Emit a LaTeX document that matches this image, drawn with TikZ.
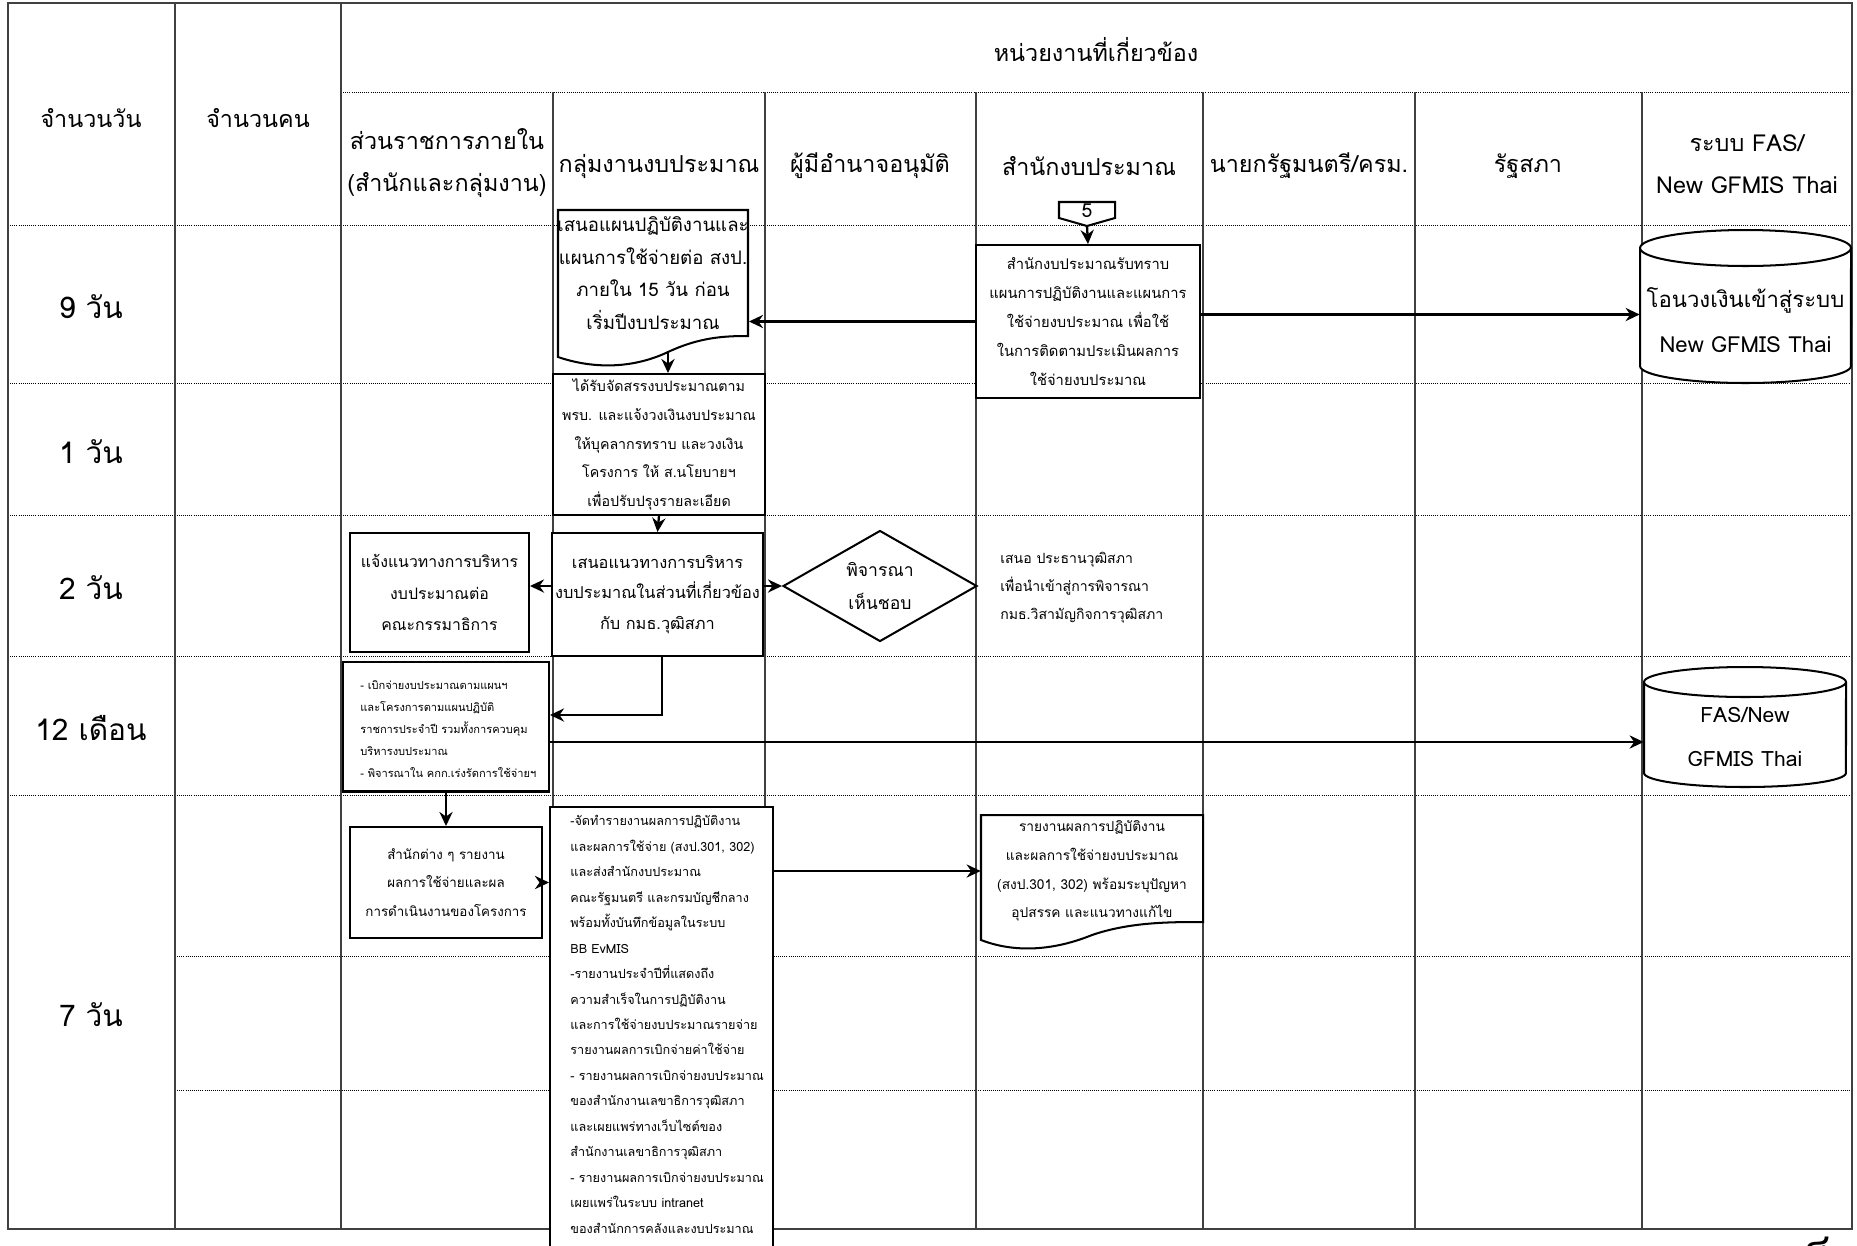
\documentclass[tikz,border=0pt]{standalone}
\usepackage{fontspec}
\setmainfont{Loma}[Script=Thai]
\usetikzlibrary{arrows.meta,shapes.geometric,calc}
\newcommand\fsz[2]{\fontsize{#1}{#2}\selectfont}
\tikzset{
  gridline/.style={line width=0.9pt, draw=black!75},
  rowline/.style={line width=0.5pt, dash pattern=on 0.5pt off 0.7pt},
  box/.style={draw, line width=1.15pt, fill=white, inner sep=0pt, align=center},
  ghost/.style={draw=none, inner sep=0pt, align=center},
  shp/.style={draw, line width=1.15pt, fill=white},
  arr/.style={line width=1.3pt, -{Stealth[length=8pt,width=7.5pt]}},
  lbl/.style={inner sep=0pt, align=center},
  hdr/.style={lbl, font=\fsz{13.3}{23.8}},
  rowlbl/.style={lbl, font=\fsz{17}{20}},
}
\begin{document}
\begin{tikzpicture}[x=0.02cm,y=-0.02cm]
\useasboundingbox (0,0) rectangle (1857,1245);
\fill[white] (0,0) rectangle (1857,1245);
% grid
\draw[rowline] (341,92) -- (1852,92);
\foreach \y in {225,383,515,656,795} \draw[rowline] (8,\y) -- (1852,\y);
\foreach \y in {956,1090} \draw[rowline] (175,\y) -- (1852,\y);
\foreach \x in {175,341} \draw[gridline] (\x,3) -- (\x,1229);
\foreach \x in {553,765,976,1203,1415,1642} \draw[gridline] (\x,92) -- (\x,1229);
\draw[gridline] (8,3) rectangle (1852,1229);
% headers
\node[hdr] (hmain) at (1096,50) {หน่วยงานที่เกี่ยวข้อง};
\node[hdr] (hdays) at (91,118) {จำนวนวัน};
\node[hdr] (hppl) at (258,118) {จำนวนคน};
\node[hdr] (hint) at (447,163) {ส่วนราชการภายใน\\(สำนักและกลุ่มงาน)};
\node[hdr] (hbud) at (659,166) {กลุ่มงานงบประมาณ};
\node[hdr] (happ) at (870,166) {ผู้มีอำนาจอนุมัติ};
\node[hdr] (hbb) at (1089,166) {สำนักงบประมาณ};
\node[hdr] (hpm) at (1309,166) {นายกรัฐมนตรี/ครม.};
\node[hdr] (hpar) at (1528,166) {รัฐสภา};
\node[hdr] (hfas) at (1747,164) {ระบบ FAS/\\New GFMIS Thai};
% row labels
\node[rowlbl] (r1) at (91,307) {9 วัน};
\node[rowlbl] (r2) at (91,452) {1 วัน};
\node[rowlbl] (r3) at (91,588) {2 วัน};
\node[rowlbl] (r4) at (91,728) {12 เดือน};
\node[rowlbl] (r5) at (91,1015) {7 วัน};
% off-page connector 5
\draw[shp] (1059,202) -- (1115,202) -- (1115,218) -- (1087,226) -- (1059,218) -- cycle;
\node[lbl, font=\fsz{11}{13}] (p5) at (1087,211) {5};
\coordinate (p5tip) at (1087,226);
% box A
\node[box, minimum width=4.48cm, minimum height=3.06cm, font=\fsz{8.4}{16.4}] (boxA) at (1088,321.5)
  {สำนักงบประมาณรับทราบ\\แผนการปฏิบัติงานและแผนการ\\ใช้จ่ายงบประมาณ เพื่อใช้\\ในการติดตามประเมินผลการ\\ใช้จ่ายงบประมาณ};
% document 1
\draw[shp] (558,210) -- (748,210) -- (748,336) .. controls (725,336) and (700,337) .. (668,352)
  .. controls (630,370) and (590,368) .. (558,357) -- cycle;
\coordinate (d1wave) at (668,352);
\node[ghost, minimum width=3.8cm, minimum height=2.52cm, font=\fsz{10.6}{18.7}] (doc1) at (653,273)
  {เสนอแผนปฏิบัติงานและ\\แผนการใช้จ่ายต่อ สงป.\\ภายใน 15 วัน ก่อน\\เริ่มปีงบประมาณ};
% box B
\node[box, minimum width=4.24cm, minimum height=2.82cm, font=\fsz{8.1}{16.3}] (boxB) at (659,444.5)
  {ได้รับจัดสรรงบประมาณตาม\\พรบ. และแจ้งวงเงินงบประมาณ\\ให้บุคลากรทราบ และวงเงิน\\โครงการ ให้ ส.นโยบายฯ\\เพื่อปรับปรุงรายละเอียด};
% box C
\node[box, minimum width=4.22cm, minimum height=2.46cm, font=\fsz{9.3}{17.6}] (boxC) at (657.5,594.5)
  {เสนอแนวทางการบริหาร\\งบประมาณในส่วนที่เกี่ยวข้อง\\กับ กมธ.วุฒิสภา};
% box D
\node[box, minimum width=3.58cm, minimum height=2.38cm, font=\fsz{9}{18.1}] (boxD) at (439.5,592.5)
  {แจ้งแนวทางการบริหาร\\งบประมาณต่อ\\คณะกรรมาธิการ};
% diamond
\node[diamond, draw, line width=1.15pt, fill=white, aspect=1.75, inner sep=0pt,
  minimum width=3.88cm, minimum height=2.22cm, align=center, font=\fsz{10}{19.3}] (dia) at (880,586)
  {พิจารณา\\เห็นชอบ};
% side text
\node[lbl, anchor=west, align=left, font=\fsz{8}{15.9}] (side) at (1000,588)
  {เสนอ ประธานวุฒิสภา\\เพื่อนำเข้าสู่การพิจารณา\\กมธ.วิสามัญกิจการวุฒิสภา};
% box E
\node[box, minimum width=4.12cm, minimum height=2.6cm] (boxE) at (446,726.5) {};
\node[lbl, anchor=west, align=left, font=\fsz{6.3}{12.5}] (boxEt) at (360,729)
  {- เบิกจ่ายงบประมาณตามแผนฯ\\และโครงการตามแผนปฏิบัติ\\ราชการประจำปี รวมทั้งการควบคุม\\บริหารงบประมาณ\\- พิจารณาใน คกก.เร่งรัดการใช้จ่ายฯ};
% box F
\node[box, minimum width=3.84cm, minimum height=2.22cm, font=\fsz{7.6}{16.4}] (boxF) at (446,882.5)
  {สำนักต่าง ๆ รายงาน\\ผลการใช้จ่ายและผล\\การดำเนินงานของโครงการ};
% box G
\node[box, minimum width=4.46cm, minimum height=9.16cm] (boxG) at (661.5,1036) {};
\node[lbl, anchor=north west, align=left, font=\fsz{7.2}{14.5}] (boxGt) at (570,815)
  {-จัดทำรายงานผลการปฏิบัติงาน\\และผลการใช้จ่าย (สงป.301, 302)\\และส่งสำนักงบประมาณ\\คณะรัฐมนตรี และกรมบัญชีกลาง\\พร้อมทั้งบันทึกข้อมูลในระบบ\\BB EvMIS\\-รายงานประจำปีที่แสดงถึง\\ความสำเร็จในการปฏิบัติงาน\\และการใช้จ่ายงบประมาณรายจ่าย\\รายงานผลการเบิกจ่ายค่าใช้จ่าย\\- รายงานผลการเบิกจ่ายงบประมาณ\\ของสำนักงานเลขาธิการวุฒิสภา\\และเผยแพร่ทางเว็บไซต์ของ\\สำนักงานเลขาธิการวุฒิสภา\\- รายงานผลการเบิกจ่ายงบประมาณ\\เผยแพร่ในระบบ intranet\\ของสำนักการคลังและงบประมาณ};
% document 2
\draw[shp] (981,815) -- (1203,815) -- (1203,922) .. controls (1170,922) and (1130,922) .. (1092,935)
  .. controls (1060,948) and (1020,955) .. (981,940) -- cycle;
\node[ghost, minimum width=4.44cm, minimum height=2.14cm, font=\fsz{7.8}{16.4}] (doc2) at (1092,871)
  {รายงานผลการปฏิบัติงาน\\และผลการใช้จ่ายงบประมาณ\\(สงป.301, 302) พร้อมระบุปัญหา\\อุปสรรค และแนวทางแก้ไข};
% cylinder 1
\draw[shp] (1640,248) -- (1640,366) arc[start angle=180, end angle=360, x radius=2.11cm, y radius=0.34cm]
  -- (1851,248);
\draw[line width=1.15pt, fill=white] (1745.5,248) ellipse [x radius=2.11cm, y radius=0.36cm];
\node[ghost, minimum width=4.22cm, minimum height=3.06cm] (cyl1) at (1745.5,306.5) {};
\node[lbl, font=\fsz{12.6}{25.5}] (cyl1t) at (1745.5,320) {โอนวงเงินเข้าสู่ระบบ\\New GFMIS Thai};
% cylinder 2
\draw[shp] (1644,682) -- (1644,773) arc[start angle=180, end angle=360, x radius=2.02cm, y radius=0.28cm]
  -- (1846,682);
\draw[line width=1.15pt, fill=white] (1745,682) ellipse [x radius=2.02cm, y radius=0.3cm];
\node[ghost, minimum width=4.04cm, minimum height=2.4cm] (cyl2) at (1745,727) {};
\node[lbl, font=\fsz{12}{25.5}] (cyl2t) at (1745,737) {FAS/New\\GFMIS Thai};
% connectors
\draw[arr] (p5tip) -- (boxA.north);
\draw[arr] (boxA.west) -- (boxA.west -| doc1.east);
\draw[arr] ([yshift=0.14cm]boxA.east) -- ([yshift=0.14cm]boxA.east -| cyl1.west);
\draw[arr] (d1wave) -- (d1wave |- boxB.north);
\draw[arr] (boxB.south) -- (boxC.north);
\draw[arr] (boxC.west |- dia.west) -- (boxD.east |- dia.west);
\draw[arr] (dia.west -| boxC.east) -- (dia.west);
\draw[arr] ([xshift=0.09cm]boxC.south) |- ([yshift=0.23cm]boxE.east);
\draw[arr] ([yshift=-0.31cm]boxE.east) -- ([yshift=-0.31cm]boxE.east -| cyl2.west);
\draw[arr] (boxE.south) -- (boxF.north);
\draw[arr] (boxF.east) -- (boxF.east -| boxG.west);
\draw[arr] (boxG.east |- doc2.west) -- (doc2.west);
% page number
\node[lbl, font=\fsz{18}{20}\bfseries] (pgno) at (1818,1247) {๘};
\end{tikzpicture}
\end{document}
